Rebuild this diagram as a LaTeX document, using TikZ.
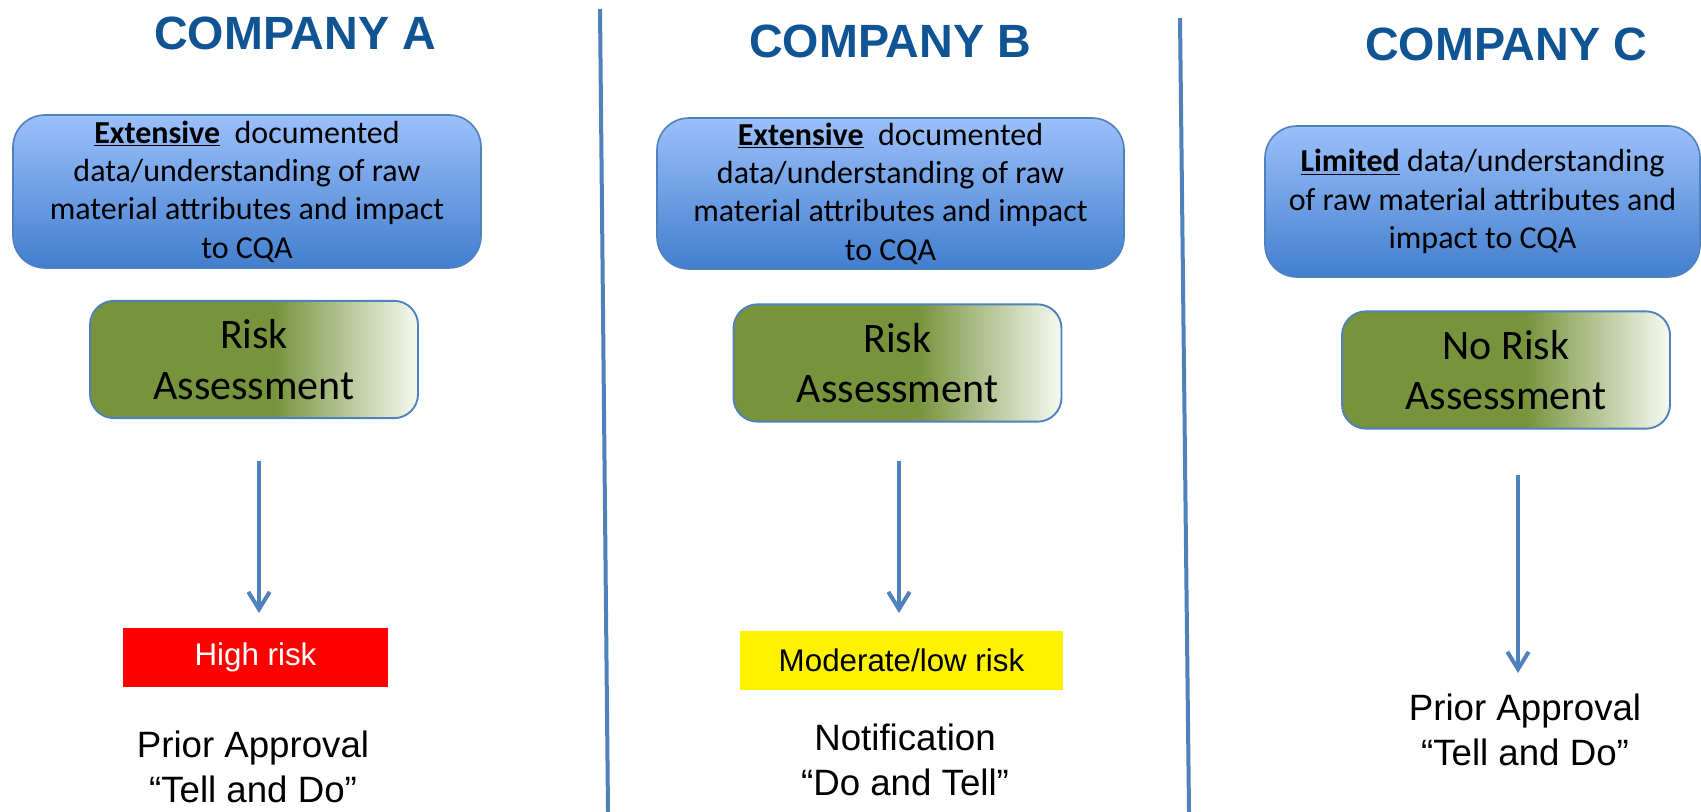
\documentclass[tikz,border=0pt]{standalone}
\usepackage{fontspec}
\setmainfont{Carlito}
\newfontfamily\arial{Liberation Sans}
\usetikzlibrary{arrows.meta}
\definecolor{ttl}{RGB}{16,84,148}
\definecolor{bbd}{RGB}{79,129,189}
\definecolor{btop}{RGB}{155,192,250}
\definecolor{bbot}{RGB}{66,126,206}
\definecolor{olive}{RGB}{119,147,60}
\definecolor{pale}{RGB}{246,249,242}
\definecolor{arr}{RGB}{79,129,189}
\pgfdeclarehorizontalshading{greensh}{100bp}{color(0bp)=(olive); color(53bp)=(olive); color(75bp)=(pale); color(100bp)=(pale)}
\tikzset{
  title/.style={font=\arial\bfseries\fontsize{35}{40}\selectfont, text=ttl, inner sep=0pt},
  bluebox/.style={draw=bbd, line width=1.2pt, rounded corners=24pt, top color=btop, bottom color=bbot,
     align=center, inner sep=0pt, font=\fontsize{24}{28.8}\selectfont},
  greenbox/.style={draw=bbd, line width=1.4pt, rounded corners=18pt, shading=greensh,
     align=center, inner sep=0pt, minimum width=246pt, minimum height=88pt, font=\fontsize{31.5}{37.8}\selectfont},
  riskbox/.style={inner sep=0pt, minimum height=44.25pt, font=\arial\fontsize{23.5}{28}\selectfont},
  outcome/.style={align=center, inner sep=0pt, font=\arial\fontsize{27.5}{33.75}\selectfont},
  divider/.style={draw=bbd, line width=3pt},
  flow/.style={draw=arr, line width=3pt, -{Straight Barb[length=13pt,width=16pt]}}
}
\begin{document}
\begin{tikzpicture}[x=0.75pt,y=0.75pt]
\useasboundingbox (0,0) rectangle (1701,-812);
\fill[white] (0,0) rectangle (1701,-812);

% titles
\node[title] (tA) at (295,-33) {COMPANY A};
\node[title] (tB) at (890,-41) {COMPANY B};
\node[title] (tC) at (1506,-44) {COMPANY C};

% dividers
\coordinate (d1a) at (600,-9);
\coordinate (d1b) at (608,-812);
\coordinate (d2a) at (1180,-18);
\coordinate (d2b) at (1189,-812);
\draw[divider] (d1a) -- (d1b);
\draw[divider] (d2a) -- (d2b);

% blue boxes
\node[bluebox, minimum width=351pt, minimum height=114.75pt] (A1) at (247,-191.5)
  {\underline{\textbf{Extensive}}\ \ documented\\data/understanding of raw\\material attributes and impact\\to CQA};
\node[bluebox, minimum width=350.25pt, minimum height=113.25pt] (B1) at (890.5,-193.5)
  {\underline{\textbf{Extensive}}\ \ documented\\data/understanding of raw\\material attributes and impact\\to CQA};
\node[bluebox, minimum width=326.25pt, minimum height=113.25pt] (C1) at (1482.5,-201.5)
  {\underline{\textbf{Limited}} data/understanding\\of raw material attributes and\\impact to CQA};

% green boxes
\node[greenbox] (A2) at (254,-359.5) {Risk\\Assessment};
\node[greenbox] (B2) at (897.5,-363) {Risk\\Assessment};
\node[greenbox] (C2) at (1506,-370) {No Risk\\Assessment};

% arrows
\coordinate (aA1) at (259,-461);
\coordinate (aA2) at (259,-613);
\coordinate (aB1) at (899,-461);
\coordinate (aB2) at (899,-613);
\coordinate (aC1) at (1518,-475);
\coordinate (aC2) at (1518,-673);
\draw[flow] (aA1) -- (aA2);
\draw[flow] (aB1) -- (aB2);
\draw[flow] (aC1) -- (aC2);

% risk boxes
\node[riskbox, fill=red, text=white, minimum width=198.75pt] (A3) at (255.5,-657.5) {High risk};
\node[riskbox, fill=yellow, text=black, minimum width=242.25pt] (B3) at (901.5,-660.5) {Moderate/low risk};

% outcomes
\node[outcome] (A4) at (253,-766.5) {Prior Approval\\“Tell and Do”};
\node[outcome] (B4) at (905,-759.5) {Notification\\“Do and Tell”};
\node[outcome] (C4) at (1525,-729.5) {Prior Approval\\“Tell and Do”};
\end{tikzpicture}
\end{document}
